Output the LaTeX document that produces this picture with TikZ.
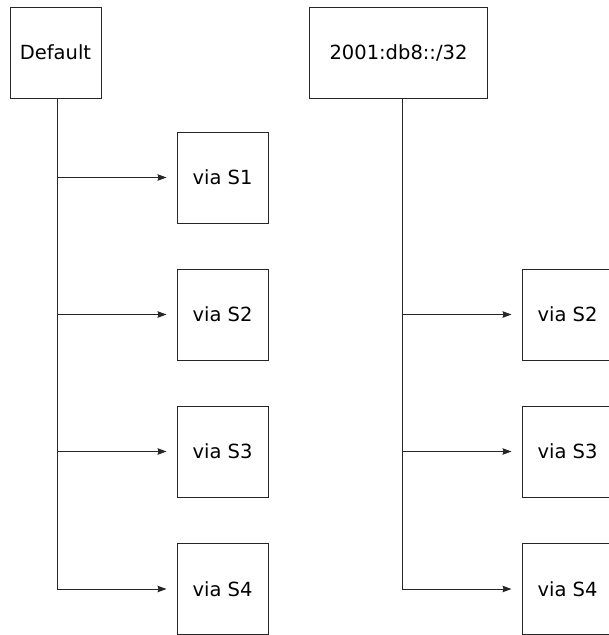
\documentclass[tikz,border=0pt]{standalone}
\usepackage{fontspec}
\setmainfont{DejaVu Sans}
\usetikzlibrary{arrows.meta}
\begin{document}
\begin{tikzpicture}[x=1pt,y=-1pt,
  box/.style={draw=black!85,line width=1pt,minimum width=91pt,minimum height=91pt,inner sep=0pt,font=\fontsize{19.5}{22}\selectfont},
  wide/.style={box,minimum width=178pt},
  conn/.style={draw=black!85,line width=1pt},
  arr/.style={conn,-{Stealth[length=9pt,width=6.5pt,inset=1pt]}}]
\useasboundingbox (0,0) rectangle (609,635);
\clip (0,0) rectangle (609,635);
% left tree
\node[box] (def) at (55.5,52.5) {Default};
\node[box] (l1) at (222.5,177.5) {via S1};
\node[box] (l2) at (222.5,314.5) {via S2};
\node[box] (l3) at (222.5,451.5) {via S3};
\node[box] (l4) at (222.5,589) {via S4};
\coordinate (lt) at (57,589.5);
\draw[conn] (def.south -| lt) -- (lt);
\foreach \i in {1,...,4}{
  \draw[arr] (l\i.west -| lt) -- ([xshift=-10pt]l\i.west);
}
% right tree
\node[wide] (pre) at (398.5,52.5) {2001:db8::/32};
\node[box] (r2) at (567.5,314.5) {via S2};
\node[box] (r3) at (567.5,451.5) {via S3};
\node[box] (r4) at (567.5,589) {via S4};
\coordinate (rt) at (402,589.5);
\draw[conn] (pre.south -| rt) -- (rt);
\foreach \i in {2,...,4}{
  \draw[arr] (r\i.west -| rt) -- ([xshift=-10pt]r\i.west);
}
\end{tikzpicture}
\end{document}
